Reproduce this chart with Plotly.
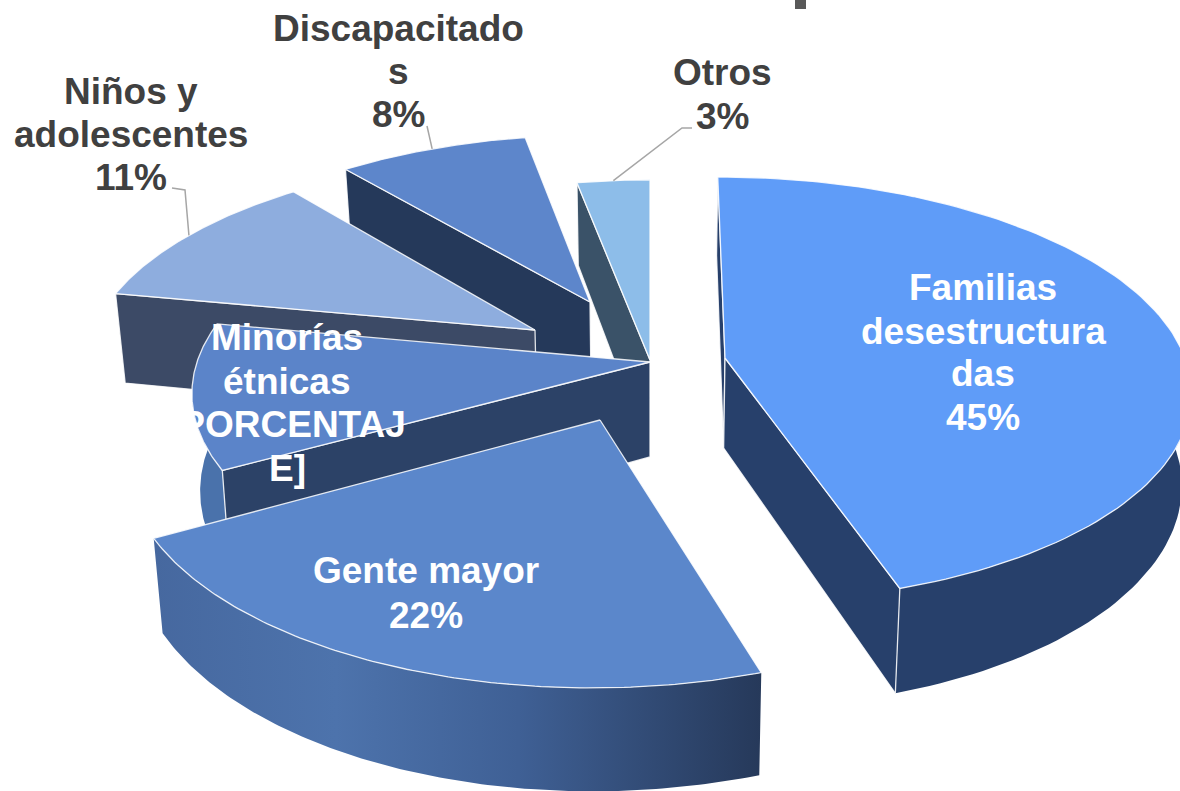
import numpy as np
import plotly.graph_objects as go

# --- data ---
categories = ["Familias desestructuradas", "Gente mayor", "Minorías étnicas",
              "Niños y adolescentes", "Discapacitados", "Otros"]
values = [45, 22, 11, 11, 8, 3]
label_lines = [
    ["Familias", "desestructura", "das", "45%"],
    ["Gente mayor", "22%"],
    ["Minorías", "étnicas", "[PORCENTAJ", "E]"],
    ["Niños y", "adolescentes", "11%"],
    ["Discapacitado", "s", "8%"],
    ["Otros", "3%"],
]

# --- styling / layout (pixel space of the 1180x791 canvas) ---
top_colors = ["#5f9cf8", "#5b87cb", "#5b84c9", "#8eadde", "#5d86cb", "#8dbde9"]
face_colors = ["#27406b", "#2a3f60", "#2c4267", "#3c4a66", "#25395a", "#3a5268"]
wall_colors = ["#27406b", None, "#4a72ab", "#3c4a66", "#4a72ab", "#3a5268"]
apex_x = [725, 600, 650, 535, 590, 650]
apex_y = [358, 420, 362, 330, 302, 360]
radius_x = [460, 469, 453, 442, 437, 447]
radius_y = [208, 228, 209, 200, 192, 207]
depth = [90, 88, 95, 92, 89, 95]
skew = [0.04, -0.03, 0, -0.08, -0.04, 0]
label_x = [983, 426, 287, 131, 398, 722]
label_y = [[287, 331, 373, 417], [570, 615], [337, 381, 424, 468],
           [91, 134, 177], [28, 71, 114], [72, 116]]
label_color = ["#ffffff", "#ffffff", "#ffffff", "#404040", "#404040", "#404040"]
leader_elbows = {3: [(185, 190), (172, 188)], 4: [(427, 126)], 5: [(682, 128), (692, 128)]}
PERSP = 0.149
CONVERGE = 0.018
CONV_X = 650
LABEL_FONT = 37

total = sum(values)
edges = np.concatenate([[0], np.cumsum(values)]) / total * 2 * np.pi


def rim(i, t):
    f = 1 / (1 + PERSP * np.cos(t))
    x = apex_x[i] + radius_x[i] * np.sin(t) * f - skew[i] * radius_y[i] * np.cos(t) * f
    y = apex_y[i] - radius_y[i] * np.cos(t) * f
    return x, y, f


def drop(i, x, y, f):
    return x + (CONV_X - x) * CONVERGE, y + depth[i] * f


def poly(xs, ys, color=None, line="rgba(255,255,255,0.85)", width=1.3, gradient=None):
    kw = dict(fillgradient=gradient) if gradient else dict(fillcolor=color)
    return go.Scatter(x=list(xs), y=list(ys), mode="lines", fill="toself",
                      line=dict(color=line, width=width), hoverinfo="skip",
                      showlegend=False, **kw)


fig = go.Figure()
for i in [5, 4, 3, 2, 1, 0]:
    t = np.linspace(edges[i], edges[i + 1], 120)
    xr, yr, fr = rim(i, t)
    xb, yb = drop(i, xr, yr, fr)
    ax, ay = apex_x[i], apex_y[i]
    abx, aby = drop(i, ax, ay, 1.0)

    # outer wall: only the part of the rim that faces the viewer
    front = np.cos(t) < 0.05
    if front.any():
        wx = np.concatenate([xr[front], xb[front][::-1], xr[front][:1]])
        wy = np.concatenate([yr[front], yb[front][::-1], yr[front][:1]])
        if wall_colors[i] is None:
            grad = dict(type="horizontal",
                        colorscale=[[0, "#46689f"], [0.3, "#4d73ac"], [0.6, "#3f6095"], [1, "#26395a"]])
            fig.add_trace(poly(wx, wy, line="rgba(0,0,0,0)", width=0, gradient=grad))
        else:
            fig.add_trace(poly(wx, wy, wall_colors[i], line="rgba(0,0,0,0)", width=0))

    # radial cut faces: only those turned towards the viewer
    start_visible = np.sin(edges[i]) < 1e-9
    end_visible = np.sin(edges[i + 1]) > 0
    if start_visible:
        fig.add_trace(poly([ax, xr[0], xb[0], abx, ax], [ay, yr[0], yb[0], aby, ay], face_colors[i]))
    if end_visible:
        fig.add_trace(poly([ax, xr[-1], xb[-1], abx, ax], [ay, yr[-1], yb[-1], aby, ay], face_colors[i]))

    fig.add_trace(poly(np.concatenate([[ax], xr, [ax]]), np.concatenate([[ay], yr, [ay]]),
                       top_colors[i]))

# leader lines from each outside label to the middle of its slice's rim
for i, elbow in leader_elbows.items():
    mid = (edges[i] + edges[i + 1]) / 2
    x0, y0, _ = rim(i, mid)
    fig.add_trace(go.Scatter(x=[x0] + [p[0] for p in elbow], y=[y0] + [p[1] for p in elbow],
                             mode="lines", line=dict(color="#a6a6a6", width=1.5),
                             hoverinfo="skip", showlegend=False))

for i, lines in enumerate(label_lines):
    for txt, yy in zip(lines, label_y[i]):
        fig.add_annotation(x=label_x[i], y=yy, text=f"<b>{txt}</b>", showarrow=False,
                           xanchor="center", yanchor="middle",
                           font=dict(family="Liberation Sans", size=LABEL_FONT, color=label_color[i]))

# the only visible remnant of the cropped-off title above the chart
fig.add_shape(type="rect", x0=795, x1=806, y0=-2, y1=9, fillcolor="#595959", line_width=0)

fig.update_layout(
    width=1180, height=791, autosize=False,
    margin=dict(l=0, r=0, t=0, b=0),
    paper_bgcolor="white", plot_bgcolor="white",
    xaxis=dict(range=[0, 1180], visible=False, fixedrange=True),
    yaxis=dict(range=[791, 0], visible=False, fixedrange=True),
    showlegend=False,
)
fig.write_html("out.html", config=dict(displayModeBar=False),
               post_script="document.body.style.margin='0';document.documentElement.style.overflow='hidden';")
